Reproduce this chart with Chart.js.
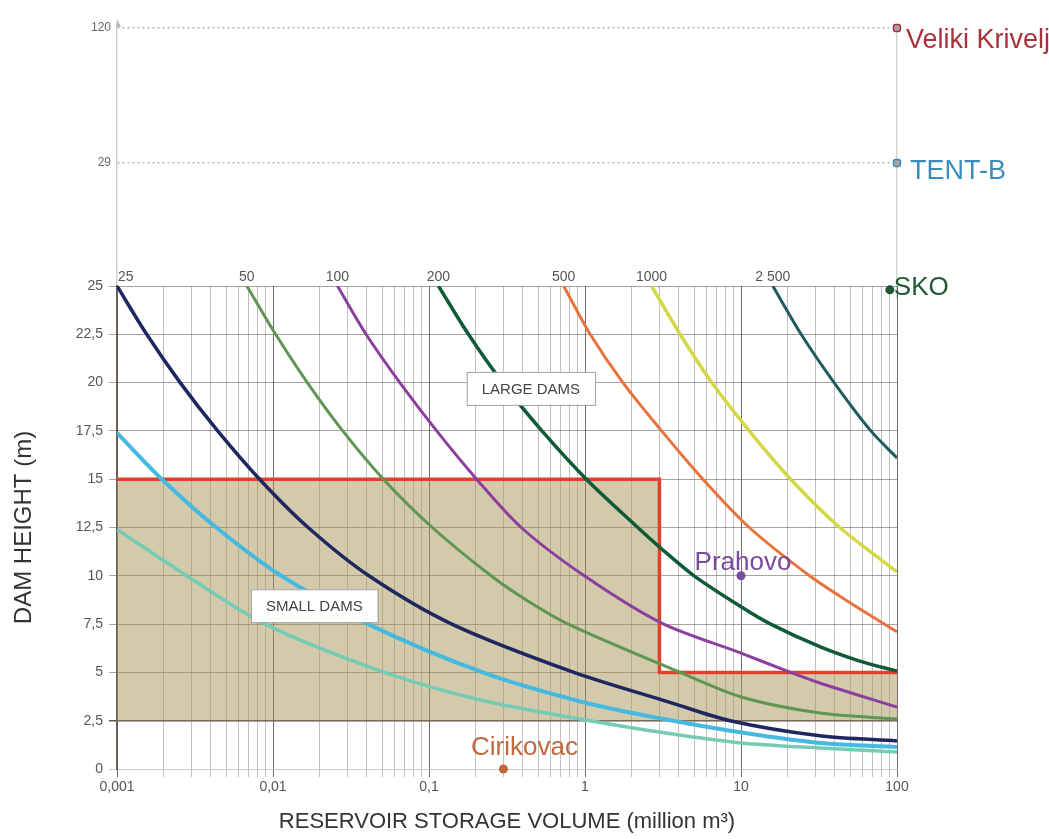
<!DOCTYPE html>
<html>
<head>
<meta charset="utf-8">
<title>Dam height vs reservoir storage volume</title>
<script src="https://cdn.jsdelivr.net/npm/chart.js@4.4.1/dist/chart.umd.min.js"></script>
<style>
    html, body { margin: 0; padding: 0; background: #fff; }
    #wrap { position: relative; width: 1049px; height: 839px; }
    #wrap canvas { position: absolute; left: 0; top: 0; }
</style>
</head>
<body>
<div id="wrap">
    <canvas id="upperChart" width="1049" height="839"></canvas>
    <canvas id="lowerChart" width="1049" height="839"></canvas>
</div>
<script>
// ── DATA ──
const volTicks = [0.001, 0.01, 0.1, 1, 10, 100];
const heightTicks = [0, 2.5, 5, 7.5, 10, 12.5, 15, 17.5, 20, 22.5, 25];
const upperTicks = ["120", "29"];

// H-V curves (volume in million m3, height in m)
const vol25 = [0.001, 0.00155, 0.00254, 0.00442, 0.0082, 0.0168, 0.0412, 0.14, 0.85, 3.5, 8.5, 32, 100];
const h25   = [25, 22.5, 20, 17.5, 15, 12.5, 10, 7.5, 5.0, 3.45, 2.5, 1.72, 1.45];
const vol50 = [0.0068, 0.0104, 0.0166, 0.028, 0.051, 0.105, 0.25, 0.42, 0.78, 4.07, 10, 32, 100];
const h50   = [25, 22.5, 20, 17.5, 15, 12.5, 10, 8.75, 7.5, 5.0, 3.73, 2.9, 2.59];
const vol100 = [0.0259, 0.0395, 0.065, 0.112, 0.202, 0.39, 0.99, 3.1, 10, 20, 32, 100];
const h100   = [25, 22.5, 20, 17.5, 15, 12.5, 10, 7.55, 6.0, 5.05, 4.45, 3.2];
const vol200 = [0.115, 0.179, 0.296, 0.53, 1.02, 2.18, 3.05, 5.0, 10, 15.5, 32, 57, 100];
const h200   = [25, 22.5, 20, 17.5, 15, 12.5, 11.44, 10, 8.4, 7.5, 6.33, 5.6, 5.07];
const vol500 = [0.73, 1.08, 1.75, 3.1, 5.7, 11.3, 27.5, 48, 100];
const h500   = [25, 22.5, 20, 17.5, 15, 12.5, 10, 8.7, 7.1];
const vol1000 = [2.67, 4.07, 6.5, 11.3, 20.8, 43, 100];
const h1000   = [25, 22.5, 20, 17.5, 15, 12.5, 10.2];
const vol2500 = [16, 24.3, 39.5, 68, 100];
const h2500   = [25, 22.5, 20, 17.5, 16.1];
const volBlue = [0.001, 0.00194, 0.00433, 0.0113, 0.0407, 0.221, 0.96, 2.95, 10.6, 32, 100];
const hBlue   = [17.4, 15, 12.5, 10, 7.5, 5.0, 3.47, 2.64, 1.86, 1.35, 1.14];
const volPale = [0.001, 0.0028, 0.0089, 0.052, 0.214, 0.93, 3.3, 10, 32, 100];
const hPale   = [12.4, 10, 7.5, 5.0, 3.57, 2.59, 1.86, 1.35, 1.09, 0.88];

// small / large dam limit
const limitVol = [0.001, 3, 3, 100];
const limitH = [15, 15, 5, 5];
const limitBase = 2.5;

const boxNames = ["LARGE DAMS", "SMALL DAMS"];
const boxVol = [0.45, 0.0184];
const boxH = [19.7, 8.45];

const siteNames = ["Cirikovac", "Prahovo", "SKO"];
const siteVol = [0.3, 10, 90];
const siteH = [0, 10, 24.8];

const highNames = ["Veliki Krivelj", "TENT-B"];
const highVol = [100, 100];
const highH = ["120", "29"];

// ── STYLE ──
const FONT = '"Liberation Sans", Arial, sans-serif';
Chart.defaults.font.family = FONT;

const curves = [
    { label: "25",    vol: vol25,   h: h25,   color: "#1f2761", width: 3.5 },
    { label: "50",    vol: vol50,   h: h50,   color: "#5f9653", width: 3 },
    { label: "100",   vol: vol100,  h: h100,  color: "#8c3f9f", width: 3 },
    { label: "200",   vol: vol200,  h: h200,  color: "#0f5b37", width: 3.5 },
    { label: "500",   vol: vol500,  h: h500,  color: "#e8733d", width: 3 },
    { label: "1000",  vol: vol1000, h: h1000, color: "#d3d846", width: 3.5 },
    { label: "2 500", vol: vol2500, h: h2500, color: "#1f5b5e", width: 3 },
    { label: "",      vol: volBlue, h: hBlue, color: "#45b9e0", width: 4 },
    { label: "",      vol: volPale, h: hPale, color: "#76cbb5", width: 3.5 }
];

const siteStyle = [
    { color: "#c4683c", dx: 21, dy: -21, align: "center" },
    { color: "#7a4a9c", dx: 2,  dy: -13, align: "center" },
    { color: "#1c5a32", dx: 4,  dy: -2,  align: "left" }
];
const highStyle = [
    { color: "#a8323c", dx: 9,  dy: 13 },
    { color: "#3b8bbd", dx: 13, dy: 9 }
];

const pts = (xs, ys) => xs.map((x, i) => ({ x: x, y: ys[i] }));
const fmt = v => String(v).replace(".", ",");
const isDecade = v => volTicks.some(d => Math.abs(v - d) < d * 1e-6);
const volGrid = volTicks.slice(0, -1)
    .flatMap(d => [1, 2, 3, 4, 5, 6, 7, 8, 9].map(k => d * k))
    .concat(volTicks.slice(-1));


// ── TEXT PLUGINS ──
const lowerText = {
    id: "lowerText",
    afterDatasetsDraw(chart) {
        const { ctx, scales: { x, y } } = chart;
        ctx.save();

        // curve values along the top line
        ctx.font = "14px " + FONT;
        ctx.fillStyle = "#555";
        ctx.textBaseline = "bottom";
        curves.forEach((c, i) => {
            if (!c.label) return;
            ctx.textAlign = i === 0 ? "left" : "center";
            ctx.fillText(c.label, x.getPixelForValue(c.vol[0]) + (i === 0 ? 1 : 0), y.getPixelForValue(25) - 2);
        });

        // LARGE / SMALL DAMS boxes
        ctx.font = "15px " + FONT;
        ctx.textAlign = "center";
        ctx.textBaseline = "middle";
        boxNames.forEach((name, i) => {
            const cx = x.getPixelForValue(boxVol[i]);
            const cy = y.getPixelForValue(boxH[i]);
            const w = ctx.measureText(name).width + 30;
            const h = 33;
            ctx.fillStyle = "#fff";
            ctx.fillRect(cx - w / 2, cy - h / 2, w, h);
            ctx.strokeStyle = "#a0a0a0";
            ctx.lineWidth = 1;
            ctx.strokeRect(cx - w / 2 + 0.5, cy - h / 2 + 0.5, w, h);
            ctx.fillStyle = "#444";
            ctx.fillText(name, cx, cy + 1);
        });

        // site names
        ctx.font = "26px " + FONT;
        siteNames.forEach((name, i) => {
            const s = siteStyle[i];
            ctx.fillStyle = s.color;
            ctx.textAlign = s.align;
            ctx.fillText(name, x.getPixelForValue(siteVol[i]) + s.dx, y.getPixelForValue(siteH[i]) + s.dy);
        });
        ctx.restore();
    }
};

const upperText = {
    id: "upperText",
    afterDatasetsDraw(chart) {
        const { ctx, scales: { x, y } } = chart;
        ctx.save();
        ctx.font = "27px " + FONT;
        ctx.textAlign = "left";
        ctx.textBaseline = "middle";
        highNames.forEach((name, i) => {
            ctx.fillStyle = highStyle[i].color;
            ctx.fillText(name, x.getPixelForValue(highVol[i]) + highStyle[i].dx, y.getPixelForValue(highH[i]) + highStyle[i].dy);
        });
        // small arrow head on top of the height axis
        const ax = x.getPixelForValue(volTicks[0]);
        const ay = y.getPixelForValue(upperTicks[0]);
        ctx.fillStyle = "#b8b8b8";
        ctx.beginPath();
        ctx.moveTo(ax, ay - 9);
        ctx.lineTo(ax + 4, ay - 1);
        ctx.lineTo(ax - 1, ay - 1);
        ctx.closePath();
        ctx.fill();
        ctx.restore();
    }
};


// ── LOWER CHART (0 - 25 m) ──
const curveSets = curves.map(c => ({
    label: c.label,
    data: pts(c.vol, c.h),
    showLine: true,
    borderColor: c.color,
    borderWidth: c.width,
    tension: 0.3,
    pointRadius: 0,
    order: 1
}));

new Chart(document.getElementById("lowerChart"), {
    type: "scatter",
    data: {
        datasets: [
            {
                label: "sites",
                data: pts(siteVol, siteH),
                pointRadius: 4.5,
                pointBackgroundColor: siteStyle.map(s => s.color),
                pointBorderWidth: 0,
                clip: false,
                order: 0
            },
            ...curveSets,
            {
                label: "limit",
                data: pts(limitVol, limitH),
                showLine: true,
                borderColor: "#e2402c",
                borderWidth: 3.5,
                backgroundColor: "rgba(168,150,88,0.5)",
                fill: { value: limitBase },
                pointRadius: 0,
                order: 3
            }
        ]
    },
    options: {
        responsive: false,
        animation: false,
        layout: { padding: { top: 286, right: 152, bottom: 4, left: 10 } },
        plugins: {
            legend: { display: false },
            tooltip: { enabled: false }
        },
        scales: {
            x: {
                type: "logarithmic",
                min: 0.001,
                max: 100,
                afterBuildTicks: s => { s.ticks = volGrid.map(v => ({ value: v })); },
                afterFit: s => { s.height = 66; },
                ticks: {
                    autoSkip: false,
                    maxRotation: 0,
                    callback: v => isDecade(v) ? fmt(v) : "",
                    color: "#555",
                    font: { size: 14 },
                    padding: 2
                },
                grid: {
                    color: ctx => isDecade(ctx.tick.value) ? "rgba(80,70,64,0.8)" : "rgba(125,112,104,0.45)",
                    tickLength: 8
                },
                border: { color: "#d0c8c3" },
                title: {
                    display: true,
                    text: "RESERVOIR STORAGE VOLUME (million m³)",
                    color: "#333",
                    font: { size: 22 },
                    padding: { top: 4, bottom: 0 }
                }
            },
            y: {
                min: 0,
                max: 25,
                afterBuildTicks: s => { s.ticks = heightTicks.map(v => ({ value: v })); },
                afterFit: s => { s.width = 107; },
                ticks: {
                    callback: v => fmt(v),
                    color: "#555",
                    font: { size: 14 },
                    padding: 6
                },
                grid: {
                    color: ctx => ctx.tick.value === limitBase ? "#5e554e"
                        : ctx.tick.value === 0 ? "#d2cbc6" : "rgba(110,98,90,0.6)",
                    lineWidth: ctx => ctx.tick.value === limitBase ? 1.5 : 1,
                    tickLength: 8
                },
                border: { color: "#6a6058", width: 2 },
                title: {
                    display: true,
                    text: "DAM HEIGHT (m)",
                    color: "#333",
                    font: { size: 24 },
                    padding: { top: 0, bottom: 6 }
                }
            }
        }
    },
    plugins: [lowerText]
});


// ── UPPER CHART (broken axis: 29 and 120 m) ──
new Chart(document.getElementById("upperChart"), {
    type: "scatter",
    data: {
        datasets: [{
            label: "high dams",
            data: highVol.map((v, i) => ({ x: v, y: highH[i] })),
            pointStyle: "rectRounded",
            pointRadius: 4,
            pointBackgroundColor: "#a5a5a5",
            pointBorderColor: highStyle.map(s => s.color),
            pointBorderWidth: 1.5,
            clip: false
        }]
    },
    options: {
        responsive: false,
        animation: false,
        layout: { padding: { top: 28, right: 152, bottom: 839 - 298, left: 6 } },
        plugins: {
            legend: { display: false },
            tooltip: { enabled: false }
        },
        scales: {
            x: { type: "logarithmic", min: 0.001, max: 100, display: false },
            y: {
                type: "category",
                labels: [...upperTicks, ""],
                offset: false,
                afterFit: s => { s.width = 111; },
                ticks: { color: "#666", font: { size: 12 }, padding: 6 },
                grid: {
                    color: ctx => ctx.tick.label === "" ? "rgba(0,0,0,0)" : "#b5b5b5",
                    lineWidth: 1.5,
                    drawTicks: false
                },
                border: { color: "#cfcfcf", width: 1.5, dash: [2, 3] }
            },
            yRight: {
                type: "category",
                position: "right",
                labels: [...upperTicks, ""],
                offset: false,
                afterFit: s => { s.width = 0; },
                ticks: { display: false },
                grid: { display: false },
                border: { color: "#d5d5d5", width: 1.5 }
            }
        }
    },
    plugins: [upperText]
});
</script>
</body>
</html>
